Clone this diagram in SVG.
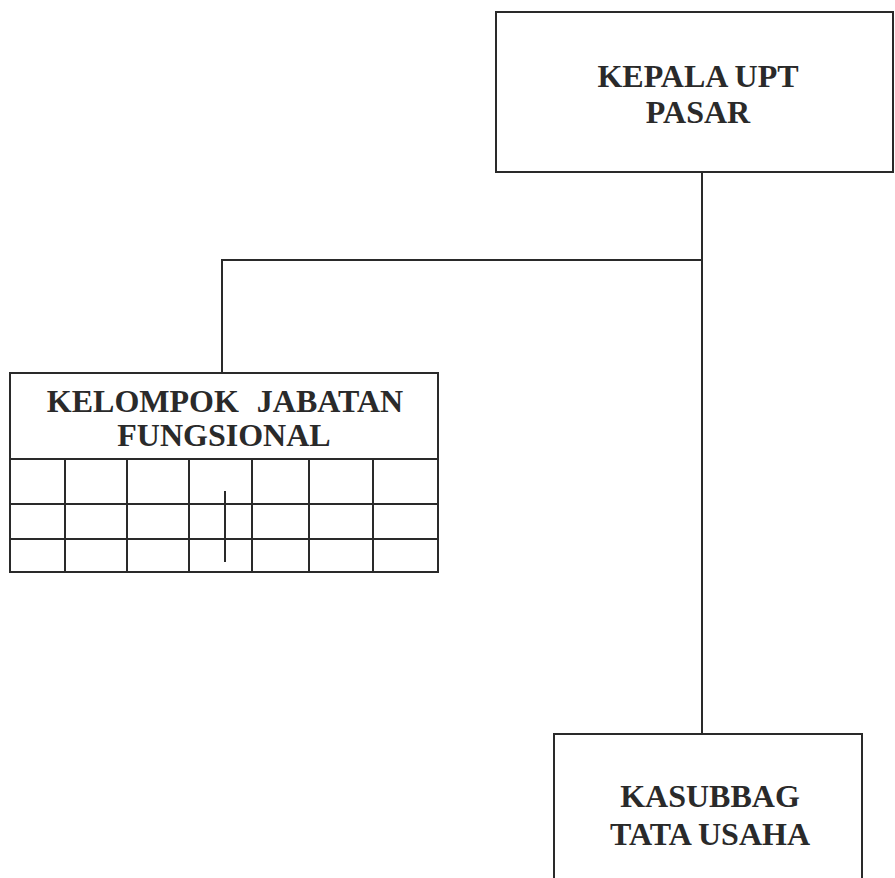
<svg xmlns="http://www.w3.org/2000/svg" width="895" height="878" viewBox="0 0 895 878">
<style>
.box{fill:#fff;stroke:#2a2a2a;stroke-width:2}
.ln{stroke:#2a2a2a;stroke-width:2;fill:none}
.t{font-family:"Liberation Serif","Times New Roman",serif;font-weight:bold;font-size:32px;fill:#2a2a2a;text-anchor:middle}
</style>
<rect width="895" height="878" fill="#fff"/>
<g id="connectors">
<path class="ln" d="M702 172 V734"/>
<path class="ln" d="M702 260 H222 V373"/>
</g>
<g id="kepala">
<rect class="box" x="496" y="12" width="397" height="160"/>
<text class="t" x="698" y="87">KEPALA UPT</text>
<text class="t" x="698" y="123">PASAR</text>
</g>
<g id="kelompok">
<rect class="box" x="10" y="373" width="428" height="199"/>
<path class="ln" d="M10 459 H438 M10 504 H438 M10 539 H438 M65 459 V572 M127 459 V572 M189 459 V572 M252 459 V572 M309 459 V572 M373 459 V572 M225 491 V562"/>
<text class="t" x="225" y="412" style="word-spacing:10px">KELOMPOK JABATAN</text>
<text class="t" x="224" y="446">FUNGSIONAL</text>
</g>
<g id="kasubbag">
<rect class="box" x="554" y="734" width="308" height="160"/>
<text class="t" x="710" y="807">KASUBBAG</text>
<text class="t" x="710" y="845">TATA USAHA</text>
</g>
</svg>
